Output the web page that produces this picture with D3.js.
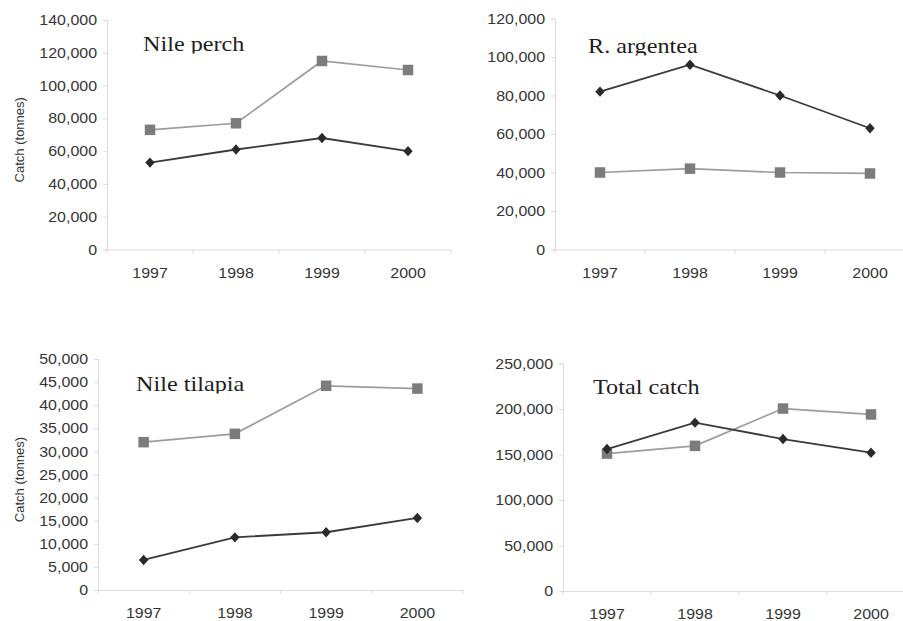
<!DOCTYPE html>
<html>
<head>
<meta charset="utf-8">
<script src="https://cdn.jsdelivr.net/npm/d3@7"></script>
<style>
  html, body { margin: 0; padding: 0; background: #fff; }
  svg { display: block; }
</style>
</head>
<body>
<svg id="chart" width="903" height="621"></svg>
<script>
// Annual catch (tonnes), 1997-2000
const years = ["1997", "1998", "1999", "2000"];

const nilePerchGrey = [73000, 77000, 115000, 109500];
const nilePerchDark = [53000, 61000, 68000, 60000];

const argenteaGrey = [40000, 42000, 40000, 39500];
const argenteaDark = [82000, 96000, 80000, 63000];

const tilapiaGrey = [32000, 33800, 44200, 43600];
const tilapiaDark = [6500, 11400, 12500, 15600];

const totalGrey = [151000, 159500, 200500, 194000];
const totalDark = [156000, 185000, 167000, 152000];

const perchTicks = [0, 20000, 40000, 60000, 80000, 100000, 120000, 140000];
const argenteaTicks = [0, 20000, 40000, 60000, 80000, 100000, 120000];
const tilapiaTicks = [0, 5000, 10000, 15000, 20000, 25000, 30000, 35000, 40000, 45000, 50000];
const totalTicks = [0, 50000, 100000, 150000, 200000, 250000];

const yLabel = "Catch (tonnes)";

const panels = [
  { title: "Nile perch", grey: nilePerchGrey, dark: nilePerchDark, ticks: perchTicks, max: 140000,
    x0: 107, x1: 451, yTop: 20, yBot: 249.5, tx: 143, ty: 51, ylabel: true },
  { title: "R. argentea", grey: argenteaGrey, dark: argenteaDark, ticks: argenteaTicks, max: 120000,
    x0: 555, x1: 915, yTop: 18.5, yBot: 249.5, tx: 588, ty: 53, ylabel: false },
  { title: "Nile tilapia", grey: tilapiaGrey, dark: tilapiaDark, ticks: tilapiaTicks, max: 50000,
    x0: 98, x1: 463, yTop: 359, yBot: 590, tx: 136, ty: 391, ylabel: true },
  { title: "Total catch", grey: totalGrey, dark: totalDark, ticks: totalTicks, max: 250000,
    x0: 563, x1: 915, yTop: 363.5, yBot: 591, tx: 593, ty: 394, ylabel: false }
];

const svg = d3.select("#chart");
const defs = svg.append("defs");
const fmt = d3.format(",");

const axisColor = "#dcdcdc";
const textColor = "#363636";
const greyLine = "#9c9c9c", greyFill = "#7c7c7c";
const darkLine = "#3a3a3a", darkFill = "#2a2a2a";

const diamond = "M0,-5.2L4.7,0L0,5.2L-4.7,0Z";

panels.forEach((p, i) => {
  const g = svg.append("g");

  const x = d3.scaleBand().domain(years).range([p.x0, p.x1]).paddingInner(0).paddingOuter(0);
  const cx = d => x(d) + x.bandwidth() / 2;
  const y = d3.scaleLinear().domain([0, p.max]).range([p.yBot, p.yTop]);

  // y axis
  const ya = g.append("g")
    .attr("transform", `translate(${p.x0},0)`)
    .call(d3.axisLeft(y).tickValues(p.ticks).tickFormat(fmt).tickSize(4).tickPadding(6));
  ya.select(".domain").attr("stroke", axisColor);
  ya.selectAll(".tick line").attr("stroke", axisColor);
  ya.selectAll(".tick text")
    .attr("fill", textColor)
    .attr("font-family", "Liberation Sans, Arial, sans-serif")
    .attr("font-size", 14.5)
    .classed("stretch", true);

  // x axis with labels centred in each band
  const xa = g.append("g")
    .attr("transform", `translate(0,${p.yBot})`)
    .call(d3.axisBottom(x).tickSize(0).tickPadding(18).tickSizeOuter(0));
  xa.select(".domain").attr("stroke", axisColor);
  xa.selectAll(".tick text")
    .attr("fill", textColor)
    .attr("font-family", "Liberation Sans, Arial, sans-serif")
    .attr("font-size", 14.5)
    .classed("stretch", true);
  // tick marks at the band boundaries
  const bounds = years.map(d => x(d)).concat([p.x1]);
  g.append("g").selectAll("line").data(bounds).join("line")
    .attr("x1", d => d).attr("x2", d => d)
    .attr("y1", p.yBot).attr("y2", p.yBot + 4)
    .attr("stroke", axisColor);

  // y axis title
  if (p.ylabel) {
    const cy = (p.yTop + p.yBot) / 2 + 5;
    g.append("text")
      .attr("transform", `translate(24,${cy}) rotate(-90)`)
      .attr("text-anchor", "middle")
      .attr("fill", textColor)
      .attr("font-family", "Liberation Sans, Arial, sans-serif")
      .attr("font-size", 13)
      .text(yLabel);
  }

  // series lines
  const line = d3.line().x((v, j) => cx(years[j])).y(v => y(v));
  g.append("path").datum(p.grey).attr("d", line)
    .attr("fill", "none").attr("stroke", greyLine).attr("stroke-width", 1.7);
  g.append("path").datum(p.dark).attr("d", line)
    .attr("fill", "none").attr("stroke", darkLine).attr("stroke-width", 1.8);

  // markers
  g.append("g").selectAll("rect").data(p.grey).join("rect")
    .attr("x", (v, j) => cx(years[j]) - 5.25)
    .attr("y", v => y(v) - 5.25)
    .attr("width", 10.5).attr("height", 10.5)
    .attr("fill", greyFill);
  g.append("g").selectAll("path").data(p.dark).join("path")
    .attr("transform", (v, j) => `translate(${cx(years[j])},${y(v)})`)
    .attr("d", diamond)
    .attr("fill", darkFill);

  // panel title (text box clips the descenders)
  const clipId = "titleclip" + i;
  defs.append("clipPath").attr("id", clipId)
    .append("rect")
    .attr("x", p.tx - 5).attr("y", p.ty - 30)
    .attr("width", 200).attr("height", 32.5);
  g.append("text")
    .attr("clip-path", `url(#${clipId})`)
    .attr("x", p.tx).attr("y", p.ty)
    .attr("fill", "#1e1e1e")
    .attr("font-family", "Liberation Serif, Times New Roman, serif")
    .attr("font-size", 22)
    .classed("stretch-title", true)
    .text(p.title);
});

// widen glyphs slightly
svg.selectAll("text.stretch").each(function () {
  const w = this.getComputedTextLength();
  d3.select(this).attr("textLength", w * 1.1).attr("lengthAdjust", "spacingAndGlyphs");
});
svg.selectAll("text.stretch-title").each(function () {
  const w = this.getComputedTextLength();
  d3.select(this).attr("textLength", w * 1.1).attr("lengthAdjust", "spacingAndGlyphs");
});
</script>
</body>
</html>
